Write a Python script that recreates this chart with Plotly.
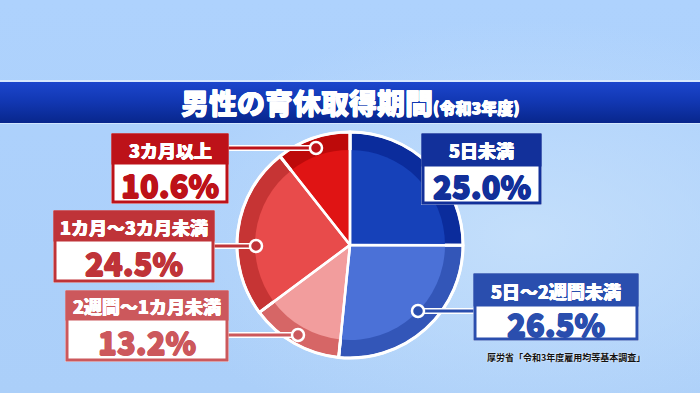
import base64
import plotly.graph_objects as go

# ---------------- data ----------------
categories = ["5日未満", "5日～2週間未満", "2週間～1カ月未満", "1カ月～3カ月未満", "3カ月以上"]
values = [25.0, 26.5, 13.2, 24.5, 10.6]
title_main = "男性の育休取得期間"
title_sub = "(令和3年度)"
source_text = "厚労省「令和3年度雇用均等基本調査」"

# ---------------- styles ----------------
W, H = 700, 393
FONT = "Noto Sans CJK JP"
inner_colors = ["#1641b9", "#4b71d7", "#f29d9d", "#e84b4b", "#e01414"]
ring_colors = ["#0b2c9c", "#3356b8", "#d66666", "#c63434", "#bd0a0a"]
box_colors = ["#12309a", "#2a4eae", "#cc585c", "#bf3338", "#bd1219"]

CX, CY, R_OUT, R_IN = 350, 245, 113, 95

# box layout in pixels: x0, x1, top, header bottom, bottom, anchor (circle) or None
box_layout = {
    "5日未満": (423, 540, 135, 165, 203, None),
    "5日～2週間未満": (475, 637, 275, 305, 339, (418, 311)),
    "2週間～1カ月未満": (67, 227, 292, 319, 360, (298, 335)),
    "1カ月～3カ月未満": (55, 213, 212, 240, 281, (256, 246)),
    "3カ月以上": (113, 227, 135, 163, 202, (316, 148)),
}


def X(px):
    return px / W


def Y(py):
    return 1 - py / H


def dom(r):
    return dict(x=[X(CX - r), X(CX + r)], y=[Y(CY + r), Y(CY - r)])


def heavy(c, d=0.6):
    return f"{d}px 0 0 {c}, -{d}px 0 0 {c}, 0 {d}px 0 {c}, 0 -{d}px 0 {c}"


# ---------------- background svg ----------------
svg = f"""<svg xmlns='http://www.w3.org/2000/svg' width='{W}' height='{H}'>
<defs>
<linearGradient id='bg' x1='0' y1='0' x2='0' y2='1'>
<stop offset='0' stop-color='#aed2fd'/><stop offset='1' stop-color='#abcff9'/></linearGradient>
<radialGradient id='gl' cx='0.75' cy='0.6' r='0.55'>
<stop offset='0' stop-color='#c6e0fb' stop-opacity='0.9'/><stop offset='1' stop-color='#c6e0fb' stop-opacity='0'/></radialGradient>
<linearGradient id='band' x1='0' y1='0' x2='0' y2='1'>
<stop offset='0' stop-color='#1c46cc'/><stop offset='0.45' stop-color='#1238b4'/><stop offset='1' stop-color='#08268c'/></linearGradient>
</defs>
<rect width='{W}' height='{H}' fill='url(#bg)'/>
<rect width='{W}' height='{H}' fill='url(#gl)'/>
<rect y='80' width='{W}' height='2' fill='#e8f2ff' opacity='0.7'/>
<rect y='82' width='{W}' height='41' fill='url(#band)'/>
<rect y='123' width='{W}' height='1' fill='#e8f2ff' opacity='0.6'/>
</svg>"""
svg_uri = "data:image/svg+xml;base64," + base64.b64encode(svg.encode("utf-8")).decode()

fig = go.Figure()

common = dict(labels=categories, values=values, sort=False, direction="clockwise",
              rotation=0, textinfo="none", hoverinfo="skip", showlegend=False)

# outer ring
fig.add_trace(go.Pie(**common, domain=dom(R_OUT),
                     marker=dict(colors=ring_colors, line=dict(color="white", width=3))))
# inner lighter disc
fig.add_trace(go.Pie(**common, domain=dom(R_IN),
                     marker=dict(colors=inner_colors, line=dict(width=0))))
# white dividers over everything
fig.add_trace(go.Pie(**common, domain=dom(R_OUT),
                     marker=dict(colors=["rgba(0,0,0,0)"] * len(values),
                                 line=dict(color="white", width=2.5))))

shapes = []
annotations = []

for cat, val, col in zip(categories, values, box_colors):
    x0, x1, y0, ym, y1, anchor = box_layout[cat]
    # connector
    if anchor is not None:
        ax, ay = anchor
        bx = x0 if ax < x0 else x1
        for w, c in ((6, "white"), (3, col)):
            shapes.append(dict(type="line", xref="paper", yref="paper",
                               x0=X(ax), x1=X(bx), y0=Y(ay), y1=Y(ay),
                               line=dict(color=c, width=w)))
        shapes.append(dict(type="circle", xref="paper", yref="paper",
                           x0=X(ax - 6), x1=X(ax + 6), y0=Y(ay + 6), y1=Y(ay - 6),
                           fillcolor=col, line=dict(color="white", width=2.5)))
    # outer light glow
    shapes.append(dict(type="rect", xref="paper", yref="paper",
                       x0=X(x0 - 2), x1=X(x1 + 2), y0=Y(y1 + 2), y1=Y(y0 - 2),
                       fillcolor="rgba(255,255,255,0.6)", line=dict(width=0)))
    # body
    shapes.append(dict(type="rect", xref="paper", yref="paper",
                       x0=X(x0), x1=X(x1), y0=Y(y1), y1=Y(y0),
                       fillcolor="white", line=dict(color=col, width=3)))
    # header
    shapes.append(dict(type="rect", xref="paper", yref="paper",
                       x0=X(x0), x1=X(x1), y0=Y(ym), y1=Y(y0),
                       fillcolor=col, line=dict(color=col, width=3)))
    annotations.append(dict(xref="paper", yref="paper", x=X((x0 + x1) / 2), y=Y((y0 + ym) / 2 + 0.5),
                            text=cat, showarrow=False, xanchor="center", yanchor="middle",
                            font=dict(family=FONT, size=18, color="white", weight=900,
                                      shadow=heavy("white", 0.4))))
    annotations.append(dict(xref="paper", yref="paper", x=X((x0 + x1) / 2), y=Y((ym + y1) / 2 + 1.5),
                            text=f"{val:.1f}%", showarrow=False, xanchor="center", yanchor="middle",
                            font=dict(family=FONT, size=31, color=col, weight=900,
                                      shadow=heavy(col, 0.7))))

# title
annotations.append(dict(xref="paper", yref="paper", x=0.5, y=Y(102), showarrow=False,
                        xanchor="center", yanchor="middle",
                        text=f"{title_main}<span style='font-size:16px'>{title_sub}</span>",
                        font=dict(family=FONT, size=28, color="white", weight=900,
                                  shadow=heavy("white", 0.5))))
# source
annotations.append(dict(xref="paper", yref="paper", x=X(647), y=Y(357), showarrow=False,
                        xanchor="right", yanchor="middle", text=f"<b>{source_text}</b>",
                        font=dict(family=FONT, size=9, color="#111111",
                                  shadow="0px 0px 2px white")))

fig.update_layout(
    width=W, height=H, autosize=False,
    margin=dict(l=0, r=0, t=0, b=0),
    paper_bgcolor="#acd0fb", plot_bgcolor="rgba(0,0,0,0)",
    images=[dict(source=svg_uri, xref="paper", yref="paper", x=0, y=1, sizex=1, sizey=1,
                 xanchor="left", yanchor="top", sizing="stretch", layer="below")],
    shapes=shapes, annotations=annotations,
)

fig.write_html("out.html")
